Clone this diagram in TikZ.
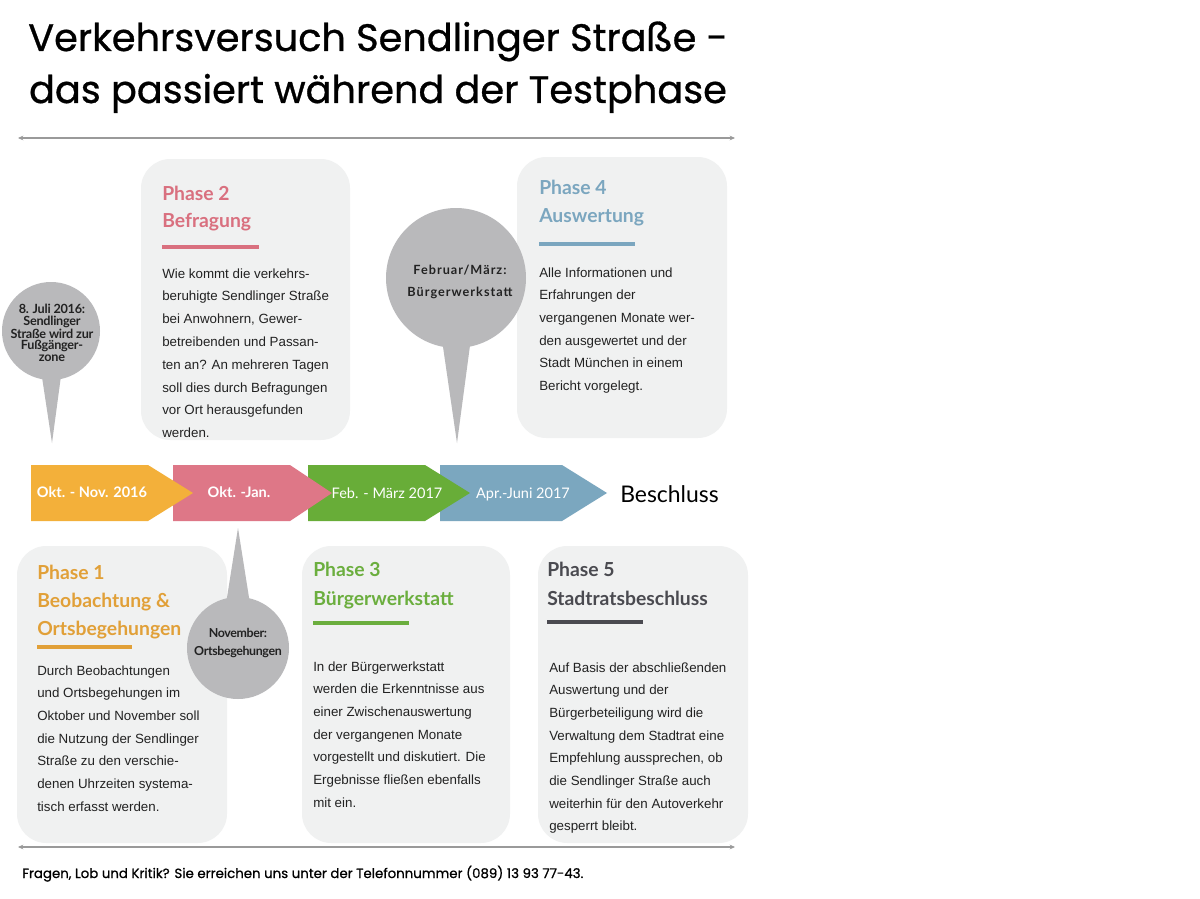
\documentclass[tikz,border=0pt]{standalone}
\usepackage{fontspec}
\setmainfont{Liberation Sans}
\newfontfamily\latofont{Lato}
\newfontfamily\titlefont{Poppins}[FakeBold=0.8]
\usetikzlibrary{positioning,arrows.meta}

\definecolor{boxgray}{HTML}{F0F1F1}
\definecolor{pingray}{HTML}{B9B9BB}
\definecolor{rulegray}{HTML}{9A9A9A}
\definecolor{textdark}{HTML}{222222}
\definecolor{orangechev}{HTML}{F3B03A}
\definecolor{pinkchev}{HTML}{DE7787}
\definecolor{greenchev}{HTML}{68AD38}
\definecolor{bluechev}{HTML}{7BA7BF}
\definecolor{orangehead}{HTML}{E1A038}
\definecolor{pinkhead}{HTML}{D9707F}
\definecolor{greenhead}{HTML}{6BAE3E}
\definecolor{bluehead}{HTML}{7BA6BF}
\definecolor{darkhead}{HTML}{4A4A50}

\tikzset{
  phasebox/.style={fill=boxgray, rounded corners=22pt},
  phasehead/.style={font=\latofont\bfseries\fontsize{14.5}{17}\selectfont, anchor=base west, inner sep=0pt},
  phasetext/.style={font=\fontsize{10}{12}\selectfont, text=textdark, anchor=base west, inner sep=0pt},
  headbar/.style={line width=3pt},
  pintext/.style={font=\latofont\bfseries, align=center, text=textdark, inner sep=0pt},
  chevlabel/.style={font=\latofont\fontsize{10.9}{12}\selectfont, text=white, anchor=base, inner sep=0pt},
  rulearrow/.style={draw=rulegray, line width=1.1pt, {Stealth[length=4pt,width=3.5pt]}-{Stealth[length=4pt,width=3.5pt]}}
}

\begin{document}
\begin{tikzpicture}[x=0.75pt,y=-0.75pt]

    \fill[white] (0,0) rectangle (1200,899);
    \useasboundingbox (0,0) rectangle (1200,899);

    % title
    \node[font=\titlefont\fontsize{28.7}{30}\selectfont, anchor=base] (titleA) at (378,51) {Verkehrsversuch Sendlinger Straße -};
    \node[font=\titlefont\fontsize{28.7}{30}\selectfont, anchor=base] (titleB) at (378,103) {das passiert während der Testphase};

    \coordinate (topL) at (18,138);
    \coordinate (topR) at (735,138);
    \draw[rulearrow] (topL) -- (topR);

    % boxes
    \fill[phasebox] (141,159) rectangle (350,440);
    \fill[phasebox] (517,157) rectangle (727,438);
    \fill[phasebox] (17,546) rectangle (227,843);
    \fill[phasebox] (302,546) rectangle (510,843);
    \fill[phasebox] (538,546) rectangle (748,843);

    % phase 2
    \node[phasehead, text=pinkhead] (ptwoA) at (162,200) {Phase 2};
    \node[phasehead, text=pinkhead] (ptwoB) at (162,227) {Befragung};
    \draw[headbar, pinkhead] (162,247) -- (259,247);
    \foreach \t [count=\i from 0] in {Wie kommt die verkehrs-, beruhigte Sendlinger Straße, {bei Anwohnern, Gewer-}, betreibenden und Passan-, ten an? An mehreren Tagen, soll dies durch Befragungen, vor Ort herausgefunden, werden.}
        \node[phasetext] (ptwo-\i) at (162,{278+\i*22.8}) {\t};

    % phase 4
    \node[phasehead, text=bluehead] (pfourA) at (539,194) {Phase 4};
    \node[phasehead, text=bluehead] (pfourB) at (539,222) {Auswertung};
    \draw[headbar, bluehead] (539,244) -- (635,244);
    \foreach \t [count=\i from 0] in {Alle Informationen und, Erfahrungen der, vergangenen Monate wer-, den ausgewertet und der, Stadt München in einem, Bericht vorgelegt.}
        \node[phasetext] (pfour-\i) at (539,{277+\i*22.7}) {\t};

    % phase 1
    \node[phasehead, text=orangehead] (poneA) at (37,579) {Phase 1};
    \node[phasehead, text=orangehead] (poneB) at (37,607) {Beobachtung \&};
    \node[phasehead, text=orangehead] (poneC) at (37,635) {Ortsbegehungen};
    \draw[headbar, orangehead] (37,647) -- (132,647);
    \foreach \t [count=\i from 0] in {Durch Beobachtungen, und Ortsbegehungen im, Oktober und November soll, die Nutzung der Sendlinger, Straße zu den verschie-, denen Uhrzeiten systema-, tisch erfasst werden.}
        \node[phasetext] (pone-\i) at (37,{675+\i*22.7}) {\t};

    % phase 3
    \node[phasehead, text=greenhead] (pthreeA) at (313,576) {Phase 3};
    \node[phasehead, text=greenhead] (pthreeB) at (313,605) {Bürgerwerkstatt};
    \draw[headbar, greenhead] (313,623) -- (409,623);
    \foreach \t [count=\i from 0] in {In der Bürgerwerkstatt, werden die Erkenntnisse aus, einer Zwischenauswertung, der vergangenen Monate, vorgestellt und diskutiert. Die, Ergebnisse fließen ebenfalls, mit ein.}
        \node[phasetext] (pthree-\i) at (313,{671+\i*22.7}) {\t};

    % phase 5
    \node[phasehead, text=darkhead] (pfiveA) at (547,576) {Phase 5};
    \node[phasehead, text=darkhead] (pfiveB) at (547,605) {Stadtratsbeschluss};
    \draw[headbar, darkhead] (547,622) -- (643,622);
    \foreach \t [count=\i from 0] in {Auf Basis der abschließenden, Auswertung und der, Bürgerbeteiligung wird die, Verwaltung dem Stadtrat eine, {Empfehlung aussprechen, ob}, die Sendlinger Straße auch, weiterhin für den Autoverkehr, gesperrt bleibt.}
        \node[phasetext] (pfive-\i) at (549,{672+\i*22.7}) {\t};

    % pins
    \coordinate (julitip) at (52,443);
    \fill[pingray] (35,331) -- (julitip) -- (67,331) -- cycle;
    \fill[pingray] (51,331) circle[radius=49];
    \node[pintext, font=\latofont\bfseries\fontsize{9.5}{8.6}\selectfont\addfontfeature{LetterSpace=-2}] (julitext) at (52,333) {8. Juli 2016:\\Sendlinger\\Straße wird zur\\Fußgänger-\\zone};

    \coordinate (febtip) at (457,443);
    \fill[pingray] (433,278) -- (febtip) -- (479,278) -- cycle;
    \fill[pingray] (456,278) circle[radius=70];
    \node[pintext, font=\latofont\bfseries\fontsize{9.5}{16.5}\selectfont\addfontfeature{LetterSpace=8}] (febtext) at (460,282) {Februar/März:\\Bürgerwerkstatt};

    \coordinate (novtip) at (238,528);
    \fill[pingray] (219,648) -- (novtip) -- (257,648) -- cycle;
    \fill[pingray] (238,648) circle[radius=51];
    \node[pintext, font=\latofont\bfseries\fontsize{9.3}{14.2}\selectfont\addfontfeature{LetterSpace=-3}] (novtext) at (238,643) {November:\\Ortsbegehungen};

    % timeline
    \fill[bluechev] (440,465) -- (562,465) -- (607,493) -- (562,521) -- (440,521) -- cycle;
    \fill[greenchev] (308,465) -- (425,465) -- (470,493) -- (425,521) -- (308,521) -- cycle;
    \fill[pinkchev] (173,465) -- (290,465) -- (332,493) -- (290,521) -- (173,521) -- cycle;
    \fill[orangechev] (31,465) -- (148,465) -- (193,493) -- (148,521) -- (31,521) -- cycle;

    \node[chevlabel, font=\latofont\bfseries\fontsize{10.9}{12}\selectfont] (okt) at (92,497) {Okt. - Nov. 2016};
    \node[chevlabel, font=\latofont\bfseries\fontsize{10.9}{12}\selectfont] (jan) at (239,497) {Okt. -Jan.};
    \node[chevlabel] (feb) at (387,498) {Feb. - März 2017};
    \node[chevlabel] (apr) at (523,498) {Apr.-Juni 2017};
    \node[font=\latofont\fontsize{17.2}{19}\selectfont, anchor=base west, inner sep=0pt] (beschluss) at (620,502) {Beschluss};

    \coordinate (botL) at (18,847);
    \coordinate (botR) at (735,847);
    \draw[rulearrow] (botL) -- (botR);

    \node[font=\titlefont\fontsize{10}{11}\selectfont, anchor=base west, inner sep=0pt] (footer) at (22,878) {Fragen, Lob und Kritik? Sie erreichen uns unter der Telefonnummer (089) 13 93 77-43.};

\end{tikzpicture}
\end{document}
